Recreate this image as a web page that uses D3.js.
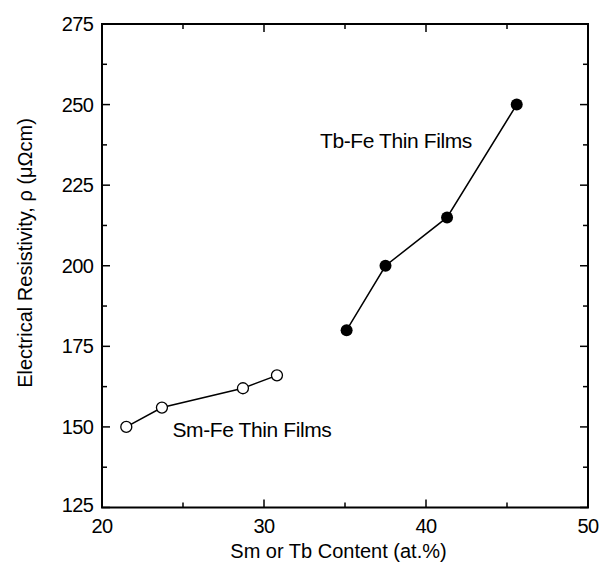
<!DOCTYPE html>
<html>
<head>
<meta charset="utf-8">
<script src="https://cdn.jsdelivr.net/npm/d3@7"></script>
<style>
  body { margin: 0; background: #fff; }
  svg { display: block; }
  text { font-family: "Liberation Sans", Arial, sans-serif; fill: #000; }
</style>
</head>
<body>
<svg id="chart" width="603" height="574"></svg>
<script>
// Data
const smFeX = [21.5, 23.7, 28.7, 30.8];
const smFeY = [150, 156, 162, 166];
const tbFeX = [35.1, 37.5, 41.3, 45.6];
const tbFeY = [180, 200, 215, 250];
const xTicks = [20, 30, 40, 50];
const xMinorTicks = [25, 35, 45];
const yTicks = [125, 150, 175, 200, 225, 250, 275];
const yMinorTicks = [137.5, 162.5, 187.5, 212.5, 237.5, 262.5];
const xTitle = "Sm or Tb Content (at.%)";
const yTitle = "Electrical Resistivity, \u03c1 (\u03bc\u03a9cm)";
const smLabel = "Sm-Fe Thin Films";
const tbLabel = "Tb-Fe Thin Films";

const svg = d3.select("#chart");
const pL = 102, pR = 588, pT = 24, pB = 507.5;
const x = d3.scaleLinear().domain([20, 50]).range([pL, pR]);
const y = d3.scaleLinear().domain([125, 275]).range([pB, pT]);

const g = svg.append("g");

// frame
g.append("rect").attr("x", pL).attr("y", pT)
  .attr("width", pR - pL).attr("height", pB - pT)
  .attr("fill", "none").attr("stroke", "#000").attr("stroke-width", 2);

const majorLen = 8, minorLen = 5;
function tickLines(vals, len, axis) {
  vals.forEach(v => {
    if (axis === "x") {
      g.append("line").attr("x1", x(v)).attr("x2", x(v)).attr("y1", pB).attr("y2", pB - len)
        .attr("stroke", "#000").attr("stroke-width", 1.5);
      g.append("line").attr("x1", x(v)).attr("x2", x(v)).attr("y1", pT).attr("y2", pT + len)
        .attr("stroke", "#000").attr("stroke-width", 1.5);
    } else {
      g.append("line").attr("y1", y(v)).attr("y2", y(v)).attr("x1", pL).attr("x2", pL + len)
        .attr("stroke", "#000").attr("stroke-width", 1.5);
      g.append("line").attr("y1", y(v)).attr("y2", y(v)).attr("x1", pR).attr("x2", pR - len)
        .attr("stroke", "#000").attr("stroke-width", 1.5);
    }
  });
}
tickLines(xTicks, majorLen, "x");
tickLines(xMinorTicks, minorLen, "x");
tickLines(yTicks, majorLen, "y");
tickLines(yMinorTicks, minorLen, "y");

// tick labels
g.selectAll(".xl").data(xTicks).enter().append("text")
  .attr("x", d => x(d)).attr("y", 532.5)
  .attr("text-anchor", "middle").attr("font-size", 20).attr("letter-spacing", -0.5).text(d => d);
g.selectAll(".yl").data(yTicks).enter().append("text")
  .attr("x", 93.5).attr("y", d => y(d) - (d === 125 ? 3 : 0)).attr("dy", "0.35em")
  .attr("text-anchor", "end").attr("font-size", 20).attr("letter-spacing", -0.5).text(d => d);

// axis titles
g.append("text").attr("x", 338.5).attr("y", 558)
  .attr("text-anchor", "middle").attr("font-size", 20).text(xTitle);
g.append("text").attr("transform", `translate(32,253) rotate(-90)`)
  .attr("text-anchor", "middle").attr("font-size", 20).text(yTitle);

// lines
const line = d3.line().x(d => x(d[0])).y(d => y(d[1]));
const smData = smFeX.map((v, i) => [v, smFeY[i]]);
const tbData = tbFeX.map((v, i) => [v, tbFeY[i]]);
g.append("path").datum(smData).attr("d", line).attr("fill", "none").attr("stroke", "#000").attr("stroke-width", 1.5);
g.append("path").datum(tbData).attr("d", line).attr("fill", "none").attr("stroke", "#000").attr("stroke-width", 1.5);

g.selectAll(".sm").data(smData).enter().append("circle")
  .attr("cx", d => x(d[0])).attr("cy", d => y(d[1])).attr("r", 5.5)
  .attr("fill", "#fff").attr("stroke", "#000").attr("stroke-width", 1.3);
g.selectAll(".tb").data(tbData).enter().append("circle")
  .attr("cx", d => x(d[0])).attr("cy", d => y(d[1])).attr("r", 6)
  .attr("fill", "#000");

// labels
g.append("text").attr("x", 320).attr("y", 147.5).attr("font-size", 21)
  .attr("letter-spacing", -0.4).text(tbLabel);
g.append("text").attr("x", 172.5).attr("y", 436.5).attr("font-size", 21)
  .attr("letter-spacing", -0.4).text(smLabel);
</script>
</body>
</html>
